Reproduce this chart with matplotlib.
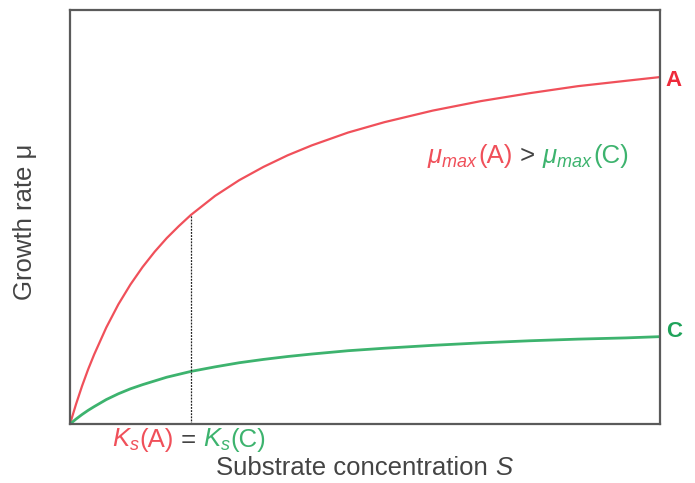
import matplotlib
matplotlib.use("Agg")
import matplotlib.pyplot as plt
from matplotlib.offsetbox import TextArea, HPacker, AnnotationBbox

plt.rcParams['font.family'] = ['Liberation Sans', 'DejaVu Sans']
plt.rcParams['mathtext.fontset'] = 'custom'
plt.rcParams['mathtext.it'] = 'Liberation Sans:italic'
plt.rcParams['mathtext.rm'] = 'Liberation Sans'

# Substrate concentration (in units of Ks) and growth rates
substrate = [0, 0.05, 0.1, 0.15, 0.2, 0.3, 0.4, 0.5, 0.6, 0.7, 0.8, 0.9, 1.0,
             1.2, 1.4, 1.6, 1.8, 2.0, 2.3, 2.6, 3.0, 3.4, 3.8, 4.2, 4.6, 4.88]
mu_A = [0, 0.048, 0.092, 0.132, 0.168, 0.233, 0.289, 0.337, 0.379, 0.416, 0.449, 0.478, 0.505,
        0.551, 0.589, 0.621, 0.649, 0.673, 0.704, 0.729, 0.757, 0.780, 0.799, 0.816, 0.829, 0.838]
mu_C = [0, 0.012, 0.023, 0.033, 0.042, 0.059, 0.073, 0.085, 0.095, 0.104, 0.113, 0.120, 0.127,
        0.138, 0.148, 0.156, 0.163, 0.169, 0.177, 0.183, 0.190, 0.196, 0.201, 0.205, 0.208, 0.211]
ks_value = 1.0
ks_mu_A = 0.505

RED = '#f0505a'
GREEN = '#3db36e'
GRAY = '#444444'

fig = plt.figure(figsize=(6.95, 4.83), dpi=100)
ax = fig.add_axes([70/695, 1 - 424/483, 590/695, 414/483])
ax.set_xlim(0, substrate[-1])
ax.set_ylim(0, 1)
ax.set_xticks([])
ax.set_yticks([])
for s in ax.spines.values():
    s.set_color('#5a5a5a')
    s.set_linewidth(1.6)

ax.plot(substrate, mu_A, color=RED, lw=1.6, solid_capstyle='butt')
ax.plot(substrate, mu_C, color=GREEN, lw=2.0, solid_capstyle='butt')
ax.plot([ks_value, ks_value], [0, ks_mu_A], color='#222222', lw=0.9, ls=(0, (1.5, 1)))

ax.text(1.01, mu_A[-1] - 0.008, 'A', transform=ax.get_yaxis_transform(), color='#ee2a3a',
        fontsize=16, fontweight='bold', va='center', ha='left')
ax.text(1.01, mu_C[-1] + 0.012, 'C', transform=ax.get_yaxis_transform(), color='#1fa35a',
        fontsize=16, fontweight='bold', va='center', ha='left')

fs = 18.5
def row(parts):
    return HPacker(children=[TextArea(t, textprops=dict(color=c, fontsize=fs)) for t, c in parts],
                   align='baseline', pad=0, sep=0)

mu_row = row([(r'$\mathit{\mu}_{\mathit{max}}$', RED), ('(A)', RED), (' > ', GRAY),
              (r'$\mathit{\mu}_{\mathit{max}}$', GREEN), ('(C)', GREEN)])
ab = AnnotationBbox(mu_row, (528/695, 1 - 157/483), xycoords='figure fraction',
                    frameon=False, box_alignment=(0.5, 0.5), pad=0)
fig.add_artist(ab)

ks_row = row([(r'$\mathit{K}_{\mathit{s}}$', RED), ('(A)', RED), (' = ', GRAY),
              (r'$\mathit{K}_{\mathit{s}}$', GREEN), ('(C)', GREEN)])
ab2 = AnnotationBbox(ks_row, (189/695, 1 - 440/483), xycoords='figure fraction',
                     frameon=False, box_alignment=(0.5, 0.5), pad=0)
fig.add_artist(ab2)

xl = row([('Substrate concentration ', GRAY), (r'$\mathit{S}$', GRAY)])
ab3 = AnnotationBbox(xl, (365/695, 1 - 468/483), xycoords='figure fraction',
                     frameon=False, box_alignment=(0.5, 0.5), pad=0)
fig.add_artist(ab3)

fig.text(25/695, 1 - 222/483, 'Growth rate μ', rotation=90, color=GRAY, fontsize=fs,
         ha='center', va='center')

fig.savefig('out.png', dpi=100)
